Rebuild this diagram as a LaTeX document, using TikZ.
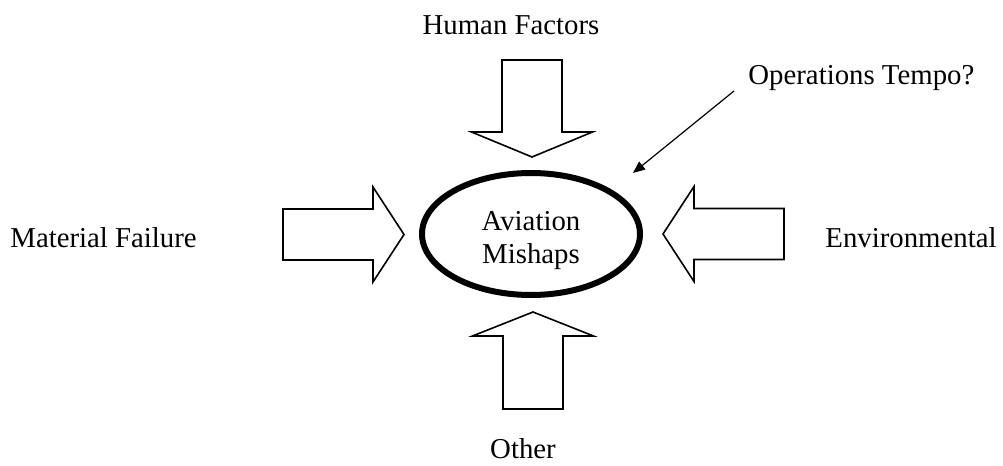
\documentclass[tikz,border=0pt]{standalone}
\usepackage{fontspec}
\setmainfont{Liberation Serif}
\usetikzlibrary{shapes.geometric, arrows.meta, positioning}

\begin{document}
\begin{tikzpicture}[
    x=0.5pt, y=-0.5pt,
    cause/.style={font=\fontsize{14.4}{17}\selectfont, inner sep=0pt},
    mishap/.style={draw, ellipse, line width=3pt, inner sep=0pt, minimum width=109pt, minimum height=61pt, align=center, font=\fontsize{14.4}{16.5}\selectfont},
    arrow/.style={-{Triangle[length=6pt, width=5pt]}, line width=0.6pt},
    pics/fatarrow/.style n args={4}{code={
        \draw[line width=0.8pt, line join=miter] (0,-#2) -- (#1-#4,-#2) -- (#1-#4,-#3) -- (#1,0) -- (#1-#4,#3) -- (#1-#4,#2) -- (0,#2) -- cycle;
    }}
]
\useasboundingbox (0,0) rectangle (1003,466);
\node[mishap] (mishaps) at (531,234) {\rule{0pt}{16pt}Aviation\\Mishaps};
\node[cause] (human) at (511,25) {Human Factors};
\node[cause, anchor=west] (material) at (10,238) {Material Failure};
\node[cause, anchor=east] (environ) at (997,238) {Environmental};
\node[cause] (other) at (523,449) {Other};
\node[cause, anchor=west] (tempo) at (748,78) {Operations Tempo?};
\coordinate (tempotip) at (633,173);
% the four block arrows
\pic at (283,234.5) {fatarrow={121}{25.5}{47.5}{31}};
\pic[rotate=180] at (784,234) {fatarrow={121}{25.5}{47.5}{31}};
\pic[rotate=-90] at (532,60) {fatarrow={97}{30}{60.5}{25}};
\pic[rotate=90] at (533,409) {fatarrow={97}{30}{60.5}{24}};
\draw[arrow] ([xshift=-7pt]tempo.south west) -- (tempotip);
\end{tikzpicture}
\end{document}
